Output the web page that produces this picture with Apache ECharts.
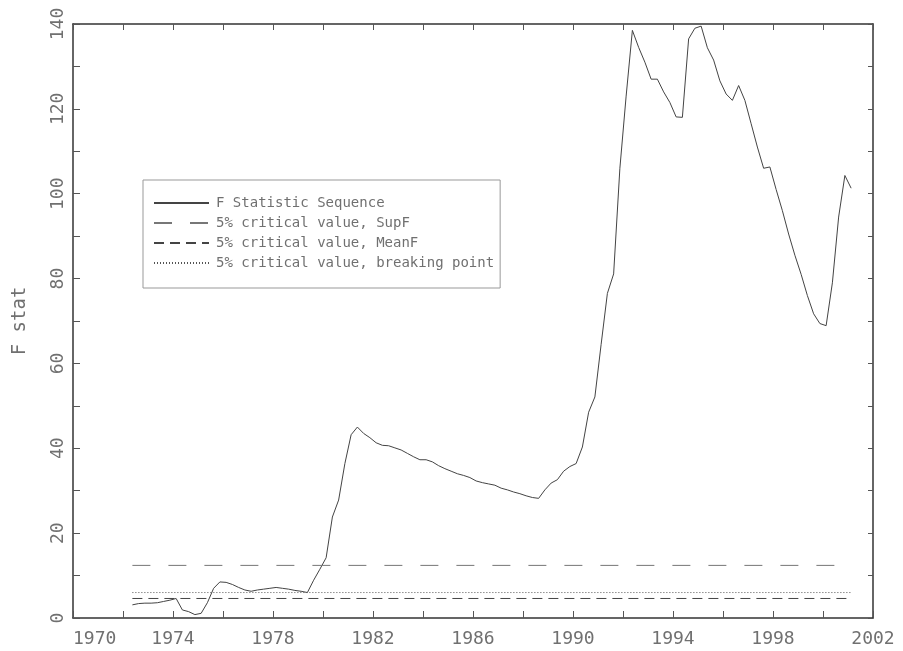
<!DOCTYPE html>
<html>
<head>
<meta charset="utf-8">
<script src="https://cdn.jsdelivr.net/npm/echarts@6/dist/echarts.min.js"></script>
<style>
  html, body { margin: 0; padding: 0; background: #fff; }
  #main { width: 903px; height: 651px; }
</style>
</head>
<body>
<div id="main"></div>
<script>
// quarterly F statistic, first point 1972 Q2 (mid-quarter), last 2001 Q1
var startYear = 1972.375;
var step = 0.25;
var fStat = [
    3.1, 3.4, 3.5, 3.5, 3.6, 3.9, 4.2, 4.6,
    1.9, 1.5, 0.8, 1.1, 3.6, 7.0, 8.5, 8.4,
    7.9, 7.2, 6.6, 6.3, 6.6, 6.8, 7.0, 7.2,
    7.0, 6.8, 6.5, 6.3, 6.0, 8.9, 11.5, 14.2,
    23.8, 27.8, 36.4, 43.2, 45.0, 43.5, 42.5, 41.3,
    40.7, 40.6, 40.1, 39.6, 38.8, 38.0, 37.3, 37.3,
    36.8, 35.9, 35.2, 34.6, 34.0, 33.6, 33.1, 32.3,
    31.9, 31.6, 31.3, 30.6, 30.2, 29.7, 29.3, 28.8,
    28.4, 28.2, 30.2, 31.8, 32.6, 34.6, 35.7, 36.4,
    40.3, 48.5, 52.1, 64.5, 76.5, 81.1, 106.0, 123.0,
    138.5, 134.5, 131.0, 127.0, 127.0, 124.0, 121.5, 118.1,
    118.0, 136.5, 139.0, 139.5, 134.4, 131.5, 126.6, 123.5,
    122.0, 125.5, 122.0, 116.5, 111.0, 106.0, 106.3, 101.0,
    96.0, 90.5, 85.5, 81.0, 76.0, 71.7, 69.4, 68.9,
    79.0, 94.5, 104.3, 101.3
];
var supF = 12.4;
var meanF = 4.6;
var breakPoint = 6.0;
var names = [
    'F Statistic Sequence',
    '5% critical value, SupF',
    '5% critical value, MeanF',
    '5% critical value, breaking point'
];

var seq = [];
for (var i = 0; i < fStat.length; i++) {
    seq.push([startYear + i * step, fStat[i]]);
}
var x0 = seq[0][0];
var x1 = seq[seq.length - 1][0];

var font = 'DejaVu Sans Mono';
var txt = '#707070';
var frame = { show: true, onZero: false, lineStyle: { color: '#333', width: 1.5 } };
var tickStyle = { color: '#555' };

var myChart = echarts.init(document.getElementById('main'));
var option = {
    backgroundColor: '#fff',
    animation: false,
    grid: { left: 73, right: 30, top: 24, bottom: 33, outerBoundsMode: 'none' },
    legend: {
        orient: 'vertical',
        left: 143,
        top: 180,
        data: names,
        itemWidth: 55,
        itemHeight: 14,
        itemGap: 6,
        padding: [16, 6, 18, 10],
        borderColor: '#999',
        borderWidth: 1,
        backgroundColor: '#fff',
        itemStyle: { opacity: 0 },
        textStyle: { fontFamily: font, fontSize: 14, color: txt, padding: [0, 0, 0, 2] }
    },
    xAxis: [{
        type: 'value',
        min: 1970,
        max: 2002,
        interval: 2,
        axisLine: frame,
        splitLine: { show: false },
        axisTick: { show: true, inside: true, length: 7, lineStyle: tickStyle },
        axisLabel: {
            fontFamily: font, fontSize: 18, color: txt, margin: 12,
            alignMinLabel: 'left',
            formatter: function (v) { return (v - 1970) % 4 === 0 ? String(v) : ''; }
        }
    }, {
        type: 'value',
        position: 'top',
        min: 1970,
        max: 2002,
        interval: 2,
        axisLine: frame,
        splitLine: { show: false },
        axisTick: { show: true, inside: true, length: 6, lineStyle: tickStyle },
        axisLabel: { show: false }
    }],
    yAxis: [{
        type: 'value',
        min: 0,
        max: 140,
        interval: 10,
        name: 'F stat',
        nameLocation: 'middle',
        nameGap: 43,
        nameRotate: 90,
        nameTextStyle: { fontFamily: font, fontSize: 19, color: txt },
        axisLine: frame,
        splitLine: { show: false },
        axisTick: { show: true, inside: true, length: 7, lineStyle: tickStyle },
        axisLabel: {
            fontFamily: font, fontSize: 18, color: txt, rotate: 90, margin: 6,
            formatter: function (v) { return v % 20 === 0 ? String(v) : ''; }
        }
    }, {
        type: 'value',
        position: 'right',
        min: 0,
        max: 140,
        interval: 10,
        axisLine: frame,
        splitLine: { show: false },
        axisTick: { show: true, inside: true, length: 5, lineStyle: tickStyle },
        axisLabel: { show: false }
    }],
    series: [{
        name: names[0],
        type: 'line',
        symbol: 'none',
        data: seq,
        lineStyle: { color: '#444', width: 1 },
        itemStyle: { color: '#444' }
    }, {
        name: names[1],
        type: 'line',
        symbol: 'none',
        data: [[x0, supF], [x1, supF]],
        lineStyle: { color: '#777', width: 1, type: [18, 18] },
        itemStyle: { color: '#777' }
    }, {
        name: names[2],
        type: 'line',
        symbol: 'none',
        data: [[x0, meanF], [x1, meanF]],
        lineStyle: { color: '#444', width: 1, type: [10, 6] },
        itemStyle: { color: '#444' }
    }, {
        name: names[3],
        type: 'line',
        symbol: 'none',
        data: [[x0, breakPoint], [x1, breakPoint]],
        lineStyle: { color: '#555', width: 1, type: [1, 2] },
        itemStyle: { color: '#555' }
    }]
};
myChart.setOption(option);
</script>
</body>
</html>
